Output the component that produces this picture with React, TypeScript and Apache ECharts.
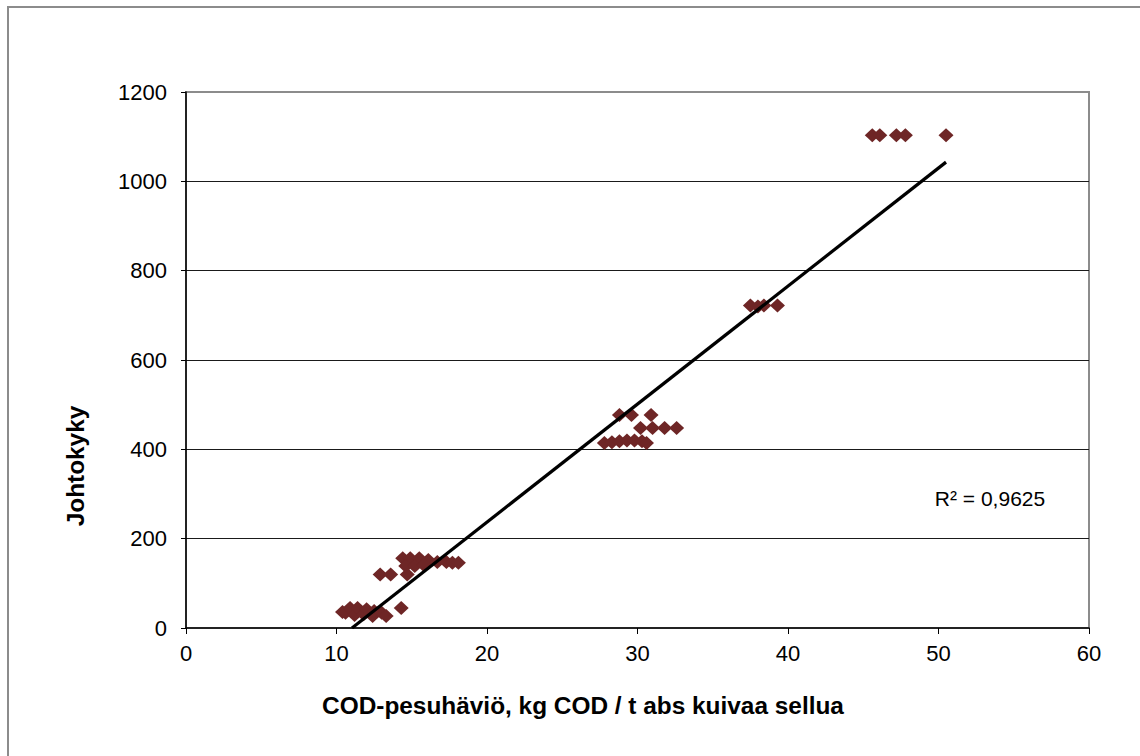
import React, { useEffect, useRef } from "react";
import * as echarts from "echarts";

// Scatter data: COD wash loss (x) vs conductivity (y)
const pointsX = [
  10.4, 10.6, 10.9, 11.2, 11.4, 11.8, 12.0, 12.4, 12.5, 13.0, 13.3, 14.3,
  12.9, 13.6, 14.7,
  14.4, 14.9, 15.5, 16.1, 16.7, 17.3, 17.7, 18.1, 14.6, 15.2, 15.8,
  28.8, 29.6, 30.9,
  30.2, 31.0, 31.8, 32.6,
  27.8, 28.3, 28.8, 29.3, 29.8, 30.3, 30.6,
  37.5, 38.0, 38.4, 39.3,
  45.6, 46.1, 47.2, 47.8, 50.5,
];
const pointsY = [
  36, 34, 45, 29, 45, 31, 42, 27, 38, 34, 27, 45,
  120, 120, 120,
  156, 156, 156, 152, 148, 148, 146, 146, 139, 139, 141,
  477, 477, 477,
  448, 448, 448, 448,
  414, 416, 418, 420, 420, 418, 414,
  722, 720, 722, 722,
  1103, 1103, 1103, 1103, 1103,
];

// Linear trend line endpoints
const trendX = [11.03, 50.5];
const trendY = [0, 1043];

const xTicks = [0, 10, 20, 30, 40, 50, 60];
const yTicks = [0, 200, 400, 600, 800, 1000, 1200];

const xTitle = "COD-pesuhäviö, kg COD / t abs kuivaa sellua";
const yTitle = "Johtokyky";
const r2Label = "R² = 0,9625";

const FONT = "'Liberation Sans', Arial, sans-serif";

export default function App() {
  const ref = useRef<HTMLDivElement>(null);

  useEffect(() => {
    if (!ref.current) return;
    const chart = echarts.init(ref.current, undefined, { renderer: "svg" });
    const scatterData = pointsX.map((x, i) => [x, pointsY[i]]);
    const trendData = trendX.map((x, i) => [x, trendY[i]]);

    chart.setOption({
      animation: false,
      backgroundColor: "#ffffff",
      grid: {
        left: 186,
        top: 92,
        right: 1140 - 1089,
        bottom: 756 - 628,
        show: true,
        borderColor: "#8c8c8c",
        borderWidth: 2,
        backgroundColor: "transparent",
      },
      xAxis: {
        type: "value",
        min: xTicks[0],
        max: xTicks[xTicks.length - 1],
        interval: 10,
        axisLine: { show: true, lineStyle: { color: "#000", width: 1.5 } },
        axisTick: { show: true, length: 6, lineStyle: { color: "#000", width: 1 } },
        axisLabel: {
          color: "#000",
          fontSize: 22,
          fontFamily: FONT,
          margin: 14,
          formatter: (v: number) => String(v),
        },
        splitLine: { show: false },
      },
      yAxis: {
        type: "value",
        min: yTicks[0],
        max: yTicks[yTicks.length - 1],
        interval: 200,
        axisLine: { show: true, lineStyle: { color: "#000", width: 1.5 } },
        axisTick: { show: true, length: 5, lineStyle: { color: "#000", width: 1 } },
        axisLabel: {
          color: "#000",
          fontSize: 22,
          fontFamily: FONT,
          margin: 19,
          formatter: (v: number) => String(v),
        },
        splitLine: {
          show: true,
          showMaxLine: false,
          showMinLine: false,
          lineStyle: { color: "#1a1a1a", width: 1 },
        },
      },
      series: [
        {
          type: "scatter",
          data: scatterData,
          symbol: "diamond",
          symbolSize: [15, 14],
          itemStyle: { color: "#6e2626", opacity: 1 },
          z: 3,
        },
        {
          type: "line",
          data: trendData,
          symbol: "none",
          lineStyle: { color: "#000", width: 3.2 },
          z: 4,
        },
      ],
      graphic: [
        {
          type: "rect",
          shape: { x: 8, y: 7, width: 1200, height: 800 },
          style: { fill: "none", stroke: "#8c8c8c", lineWidth: 2 },
          silent: true,
        },
        {
          type: "text",
          x: 583,
          y: 705,
          style: {
            text: xTitle,
            fontSize: 24.4,
            fontWeight: "bold",
            fontFamily: FONT,
            fill: "#000",
            align: "center",
            verticalAlign: "middle",
          },
        },
        {
          type: "text",
          x: 75,
          y: 466,
          rotation: Math.PI / 2,
          style: {
            text: yTitle,
            fontSize: 24.4,
            fontWeight: "bold",
            fontFamily: FONT,
            fill: "#000",
            align: "center",
            verticalAlign: "middle",
          },
        },
        {
          type: "text",
          x: 990,
          y: 498,
          style: {
            text: r2Label,
            fontSize: 21,
            fontFamily: FONT,
            fill: "#000",
            align: "center",
            verticalAlign: "middle",
          },
        },
      ],
    });

    return () => chart.dispose();
  }, []);

  return (
    <div
      ref={ref}
      style={{ position: "fixed", left: 0, top: 0, width: 1140, height: 756 }}
    />
  );
}
